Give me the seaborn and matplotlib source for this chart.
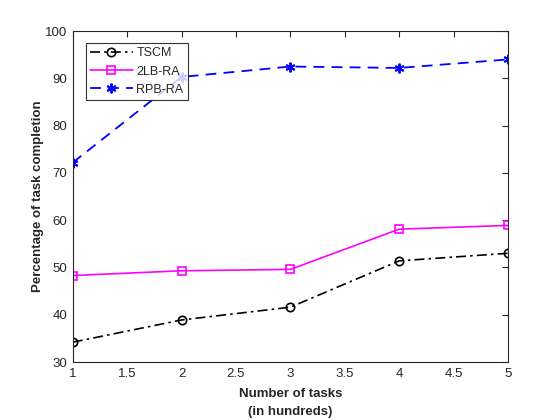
import matplotlib
matplotlib.use("Agg")
import matplotlib.pyplot as plt
import seaborn as sns
import pandas as pd

# data
tasks = [1, 2, 3, 4, 5]
tscm = [34.2, 38.9, 41.6, 51.4, 53.0]
lb2_ra = [48.3, 49.3, 49.6, 58.1, 58.9]
rpb_ra = [72.2, 90.3, 92.5, 92.2, 94.0]

sns.set_theme(style="white")
plt.rcParams['font.family'] = ['Liberation Sans', 'DejaVu Sans']

fig = plt.figure(figsize=(5.6, 4.2), dpi=100)
ax = fig.add_axes([0.13, 0.138, 0.777, 0.788])

df = pd.DataFrame({"x": tasks, "TSCM": tscm, "2LB-RA": lb2_ra, "RPB-RA": rpb_ra})

sns.lineplot(x="x", y="TSCM", data=df, ax=ax, color="black", marker="o",
             linestyle=(0, (6, 2.5, 1.5, 2.5)), markersize=6, markerfacecolor="none",
             markeredgecolor="black", markeredgewidth=1.2, linewidth=1.2, label="TSCM")
sns.lineplot(x="x", y="2LB-RA", data=df, ax=ax, color="#ff00ff", marker="s",
             linestyle="-", markersize=5.5, markerfacecolor="none",
             markeredgecolor="#ff00ff", markeredgewidth=1.2, linewidth=1.2, label="2LB-RA")
sns.lineplot(x="x", y="RPB-RA", data=df, ax=ax, color="#0000ff", marker=(6, 2, 0),
             linestyle=(0, (6, 4)), markersize=7, markeredgecolor="#0000ff",
             markeredgewidth=1.4, linewidth=1.3, label="RPB-RA")

ax.set_xlim(1, 5)
ax.set_ylim(30, 100)
ax.set_xticks([1, 1.5, 2, 2.5, 3, 3.5, 4, 4.5, 5])
ax.set_xticklabels(["1", "1.5", "2", "2.5", "3", "3.5", "4", "4.5", "5"])
ax.set_yticks(range(30, 101, 10))
ax.tick_params(direction="in", top=True, right=True, length=4, width=0.8,
               colors="#262626", labelsize=9.5, pad=4)
for s in ax.spines.values():
    s.set_color("#262626")
    s.set_linewidth(0.8)

ax.set_xlabel("Number of tasks\n(in hundreds)", fontsize=9.5, fontweight="bold",
              labelpad=6, linespacing=1.7)
ax.set_ylabel("Percentage of task completion", fontsize=9.5, fontweight="bold", labelpad=1)

leg = ax.legend(loc="upper left", bbox_to_anchor=(0.03, 0.964), borderaxespad=0,
                fontsize=9, frameon=True, fancybox=False, handlelength=3.4,
                borderpad=0.35, labelspacing=0.5, handletextpad=0.3)
leg.get_frame().set_edgecolor("black")
leg.get_frame().set_linewidth(0.8)

fig.savefig("out.png", dpi=100)
